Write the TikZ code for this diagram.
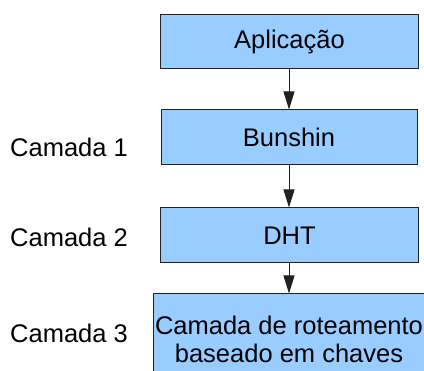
\documentclass[tikz,border=0pt]{standalone}
\usepackage{fontspec}
\setmainfont{Liberation Sans}
\usetikzlibrary{arrows.meta}
\definecolor{boxblue}{HTML}{99CCFF}
\definecolor{edge}{HTML}{222222}
\begin{document}
\begin{tikzpicture}[x=1pt,y=1pt,
  layerbox/.style={draw=edge, line width=1pt, fill=boxblue, inner sep=0pt,
    font=\fontsize{25.5}{28}\selectfont, align=center},
  lab/.style={anchor=west, inner sep=0pt, font=\fontsize{25.5}{28}\selectfont},
  conn/.style={draw=edge, line width=1pt, -{Triangle[length=18pt,width=11pt]}}]
\useasboundingbox (0,0) rectangle (424,-371);
\clip (0,0) rectangle (424,-371);
\node[layerbox, minimum width=258pt, minimum height=54pt] (app) at (289.5,-42) {Aplicação};
\node[layerbox, minimum width=256pt, minimum height=55pt] (bun) at (289,-137.5) {Bunshin};
\node[layerbox, minimum width=258pt, minimum height=55pt] (dht) at (289.5,-235.5) {DHT};
\node[layerbox, minimum width=272pt, minimum height=90pt] (rot) at (289,-339) {Camada de roteamento\\baseado em chaves};
\node[lab] (c1) at (10,-147) {Camada 1};
\node[lab] (c2) at (10,-237) {Camada 2};
\node[lab] (c3) at (10,-333) {Camada 3};
\draw[conn] (app.south -| 289,0) -- (bun.north -| 289,0);
\draw[conn] (bun.south -| 289,0) -- (dht.north -| 289,0);
\draw[conn] (dht.south -| 289,0) -- (rot.north -| 289,0);
\end{tikzpicture}
\end{document}
